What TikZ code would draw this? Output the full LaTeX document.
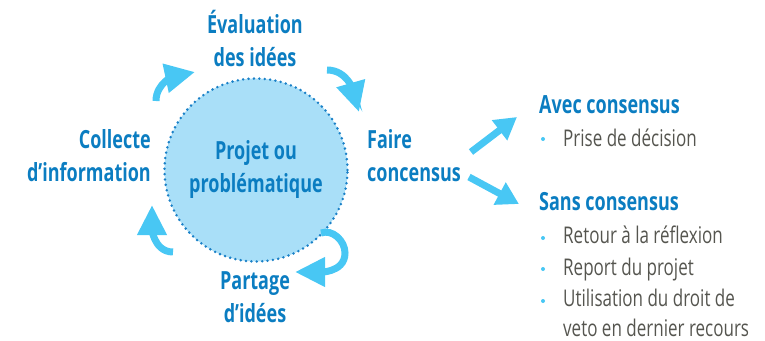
\documentclass[tikz,border=0pt]{standalone}
\usepackage{fontspec}
\setmainfont{Open Sans}[FakeStretch=0.72]
\newfontfamily\grisfont{Open Sans}[FakeStretch=0.74]
\usetikzlibrary{arrows.meta}
\definecolor{titre}{HTML}{0B7DC1}
\definecolor{fleche}{HTML}{48C7F4}
\definecolor{disque}{HTML}{A9DFF8}
\definecolor{pointille}{HTML}{1A80C7}
\definecolor{texte}{HTML}{55554F}

\tikzset{
  etape/.style={font=\bfseries\fontsize{25}{33}\selectfont, text=titre, inner sep=0},
  item/.style={font=\grisfont\fontsize{23}{31}\selectfont, text=texte, anchor=base west, inner sep=0},
  fleche/.style={line width=7pt, color=fleche, -{Triangle[width=28pt,length=30pt]}},
}

\begin{document}
\begin{tikzpicture}[x=1pt,y=-1pt]
\useasboundingbox (0,0) rectangle (765,340);
% disque central
\node[circle, minimum size=183pt, fill=disque, draw=pointille, line width=2.8pt,
      dash pattern=on 0pt off 5.4pt, line cap=round] (projet) at (256,170) {};
\node[etape, align=center] (probleme) at (256,170) {Projet ou\\problématique};

% les etapes
\node[etape, align=center] (evaluation) at (255,38) {Évaluation\\des idées};
\node[etape, align=left, anchor=west] (faire) at (367,156) {Faire\\concensus};
\node[etape, align=right, anchor=east] (collecte) at (151,156) {Collecte\\d’information};
\node[etape, align=center] (partage) at (255,297) {Partage\\d’idées};

% fleches du cycle
\coordinate (a1) at (156,101);
\coordinate (a2) at (195,72);
\coordinate (b1) at (327,70);
\coordinate (b2) at (359,112);
\coordinate (c1) at (321,233);
\coordinate (c2) at (295,272);
\coordinate (d1) at (173,252);
\coordinate (d2) at (152,205);
\draw[fleche] (a1) to[out=90,in=192] (a2);
\draw[fleche] (b1) to[out=0,in=106] (b2);
\draw[fleche] (c1) to[out=20,in=90] (345,253) to[out=-90,in=0] (c2);
\draw[fleche] (d1) to[out=180,in=-90] (d2);

% vers les issues
\node[etape, anchor=west] (avec) at (539,105) {Avec consensus};
\node[etape, anchor=west] (sans) at (539,202) {Sans consensus};
\coordinate (e1) at (471,152);
\coordinate (e2) at (517,117);
\coordinate (f1) at (469,177);
\coordinate (f2) at (519,204);
\draw[fleche, -{Triangle[width=24pt,length=22pt]}] (e1) -- (e2);
\draw[fleche, -{Triangle[width=24pt,length=22pt]}] (f1) -- (f2);

\node[item] (prise) at (563,146) {Prise de décision};
\foreach \y/\t [count=\i] in {243/Retour à la réflexion, 275/Report du projet, 306/Utilisation du droit de}
  \node[item] (sans\i) at (563,\y) {\t};
\node[item] (veto) at (563,336) {veto en dernier recours};
\foreach \y in {139,238,269,301}
  \fill[fleche] (543,\y) circle (2pt);
\end{tikzpicture}
\end{document}
